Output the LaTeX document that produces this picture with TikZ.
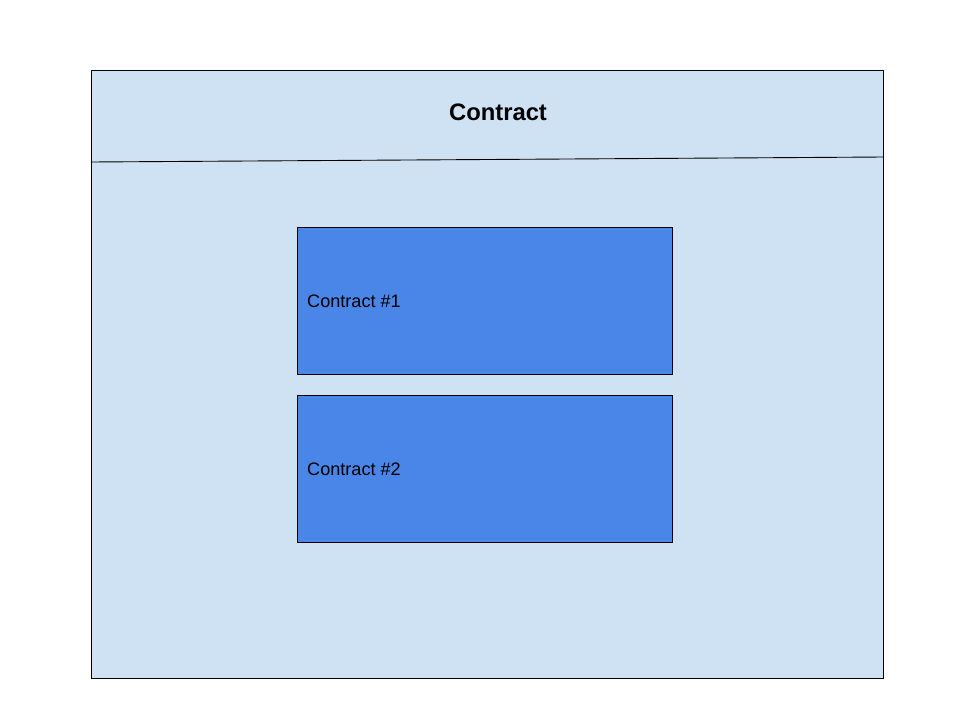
\documentclass[tikz,border=0pt]{standalone}
\usepackage{fontspec}
\setmainfont{Liberation Sans}
\definecolor{outerfill}{HTML}{CFE2F3}
\definecolor{innerfill}{HTML}{4A86E8}
\begin{document}
\begin{tikzpicture}[x=1pt,y=-1pt,
  frame/.style={draw=black,line width=0.9pt,fill=outerfill},
  cbox/.style={draw=black,line width=0.9pt,fill=innerfill},
  lbl/.style={anchor=west,inner sep=0pt,font=\fontsize{18.1}{21}\selectfont}]
\useasboundingbox (0,0) rectangle (960,720);
\fill[white] (0,0) rectangle (960,720);
\draw[frame] (91,70) rectangle (883,678);
\coordinate (l1) at (91,162);
\coordinate (l2) at (884,157);
\draw[line width=0.9pt] (l1) -- (l2);
\node[font=\bfseries\fontsize{23.8}{28}\selectfont] (title) at (498,112) {Contract};
\draw[cbox] (297,227) rectangle (672,374);
\draw[cbox] (297,395) rectangle (672,542);
\node[lbl] (c1) at (307,301) {Contract \#1};
\node[lbl] (c2) at (307,469) {Contract \#2};
\end{tikzpicture}
\end{document}
